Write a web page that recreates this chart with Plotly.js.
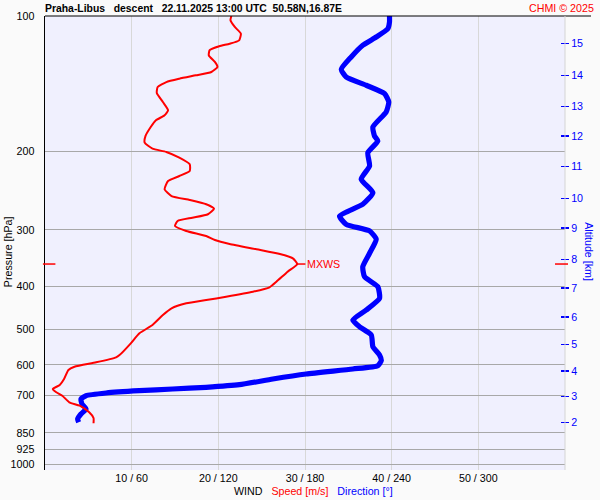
<!DOCTYPE html>
<html><head><meta charset="utf-8">
<script src="https://cdn.plot.ly/plotly-3.0.1.min.js"></script>
<style>html,body{margin:0;padding:0;background:#fafafa}</style>
</head><body><div id="chart" style="width:600px;height:500px"></div>
<script>
// Wind speed profile (m/s) vs pressure (hPa)
const speedPressure = [100,102.2,105.8,109.5,113.3,115.3,116.8,119.2,122.4,126.6,129.9,133.3,135.6,138.0,140.4,144.0,148.5,155.5,162.3,166.5,170.8,176.8,185.1,191.6,197.6,201.0,207.0,214.1,221.6,227.4,233.3,243.5,252.0,257.2,262.9,268.9,276.7,281.6,286.4,293.9,301.5,309.4,315.8,322.3,331.3,339.4,347.0,357.3,371.7,391.3,402.7,412.0,422.7,429.9,437.2,448.6,464.2,488.6,509.9,536.8,570.1,576.8,591.8,605.3,615.6,644.7,664.9,678.7,690.3,702.5,726.7,739.5,765.0,787.7,809.4];
const speed = [21.5,21.4,21.9,22.6,22.4,21.3,20.1,19.0,18.9,19.6,19.9,19.2,17.4,15.5,14.0,13.0,12.9,13.6,14.2,13.8,12.8,12.2,11.6,11.5,12.4,14.0,15.5,16.7,16.7,15.5,14.2,13.8,14.6,16.7,18.6,19.5,18.8,17.0,15.3,15.0,16.3,18.6,19.6,21.3,24.4,27.1,28.6,29.1,28.0,26.7,25.9,24.0,20.9,18.6,16.3,14.6,13.6,12.4,10.9,9.9,8.6,8.2,5.9,3.4,2.7,2.2,1.7,0.9,1.3,2.0,2.8,4.0,5.1,5.6,5.6];

// Wind direction profile (deg) vs pressure (hPa)
const dirPressure = [100,103.1,106.7,111.4,116.2,123.4,131.5,136.8,142.7,149.0,155.5,163.7,176.8,185.1,190.0,201.8,216.0,231.2,247.7,262.9,279.2,291.4,301.5,314.6,338.1,362.2,381.3,401.4,426.1,452.4,476.3,492.9,514.4,546.3,570.1,586.9,602.2,612.5,628.4,644.7,663.9,672.8,678.7,684.6,692.8,702.5,714.5,733.1,752.2,771.7,791.8,805.4];
const direction = [238.5,238.5,237.4,229.3,220.0,212.0,205.1,208.5,222.4,235.1,238.0,236.2,227.0,228.1,230.4,223.5,224.7,218.9,227.0,220.0,203.9,208.5,224.7,229.3,224.7,220.0,221.2,230.4,231.6,222.4,213.1,217.7,225.9,227.0,231.6,232.8,230.4,213.1,180.8,157.7,134.6,111.5,88.4,65.3,42.3,28.4,24.9,25.6,28.4,24.9,22.6,23.3];

// Axis ticks
const pressureTicks = [100,200,300,400,500,600,700,850,925,1000];
const dirTicks = [60,120,180,240,300];
const windTickText = ['10 / 60','20 / 120','30 / 180','40 / 240','50 / 300'];
const altKm = [15,14,13,12,11,10,9,8,7,6,5,4,3,2];
const altPressure = [115.1,135.6,159.3,185.4,216.8,255.0,297.0,348.7,404.2,469.0,539.5,618.8,706.2,805.3];

const FONT = '"Liberation Sans", Arial, sans-serif';
const FS = 10.7;
const yRange = [Math.log10(1028.7), 2];

let maxI = 0;
speed.forEach((v,i)=>{ if(v>speed[maxI]) maxI=i; });
const maxS = speed[maxI], maxP = speedPressure[maxI];

const traces = [
  {x: direction, y: dirPressure, xaxis:'x', yaxis:'y', mode:'lines',
   line:{color:'#0000ff', width:5.2, shape:'spline', smoothing:0.5}, hoverinfo:'skip'},
  {x: speed, y: speedPressure, xaxis:'x2', yaxis:'y2', mode:'lines',
   line:{color:'#ff0000', width:2, shape:'spline', smoothing:0.5}, hoverinfo:'skip'}
];

const NB = '\u00A0';
const layout = {
  width:600, height:500,
  margin:{l:45, r:35, t:16, b:30, pad:0},
  paper_bgcolor:'#fafafa', plot_bgcolor:'#f0f0fe',
  showlegend:false,
  font:{family:FONT, size:FS, color:'#000'},
  xaxis:{range:[0,360], tickvals:dirTicks, ticktext:windTickText, showgrid:true,
         gridcolor:'#d8d8d8', gridwidth:1, zeroline:false, showline:false, ticks:'',
         tickfont:{family:FONT, size:FS, color:'#000'}, fixedrange:true},
  xaxis2:{range:[0,60], overlaying:'x', anchor:'y2', visible:false, fixedrange:true},
  yaxis:{type:'log', range:yRange, tickvals:pressureTicks, ticktext:pressureTicks.map(String),
         gridcolor:'#a8a8a8', gridwidth:1, showline:true, linecolor:'#000', linewidth:1.5,
         ticks:'outside', ticklen:7, tickcolor:'rgba(0,0,0,0)', zeroline:false,
         tickfont:{family:FONT, size:FS, color:'#000'}, fixedrange:true},
  yaxis2:{type:'log', range:yRange, overlaying:'y', anchor:'free', position:0.9904, side:'right',
          tickvals:altPressure, ticktext:altKm.map(String), ticks:'outside', ticklen:8,
          tickcolor:'#0000ff', tickwidth:1.5, showgrid:false, showline:false, zeroline:false,
          tickfont:{family:FONT, size:FS, color:'#0000ff'}, fixedrange:true},
  shapes:[
    {type:'line', xref:'paper', yref:'paper', x0:0, x1:1.05, y0:1, y1:1, line:{color:'#000', width:1}},
    {type:'line', xref:'paper', yref:'paper', x0:1, x1:1, y0:0, y1:1, line:{color:'#d4d4d4', width:1}},
    {type:'line', xref:'x2', yref:'y2', x0:maxS, x1:maxS+0.95, y0:maxP, y1:maxP, line:{color:'#ff0000', width:1.5}},
    {type:'line', xref:'paper', yref:'y2', x0:-0.004, x1:0.02, y0:maxP, y1:maxP, line:{color:'#ff0000', width:1.5}},
    {type:'line', xref:'paper', yref:'y2', x0:0.9808, x1:1.0058, y0:maxP, y1:maxP, line:{color:'#ff0000', width:1.5}}
  ],
  annotations:[
    {xref:'paper', yref:'paper', x:-0.004, y:1, xanchor:'left', yanchor:'bottom', showarrow:false,
     text:'<b>Praha-Libus'+NB+NB+NB+'descent'+NB+NB+NB+'22.11.2025 13:00 UTC'+NB+NB+'50.58N,16.87E</b>',
     font:{family:FONT, size:10.4, color:'#000'}},
    {xref:'paper', yref:'paper', x:1.0596, y:1, xanchor:'right', yanchor:'bottom', showarrow:false,
     text:'CHMI © 2025', font:{family:FONT, size:FS, color:'#ff0000'}},
    {xref:'paper', yref:'paper', x:-0.071, y:0.48, xanchor:'center', yanchor:'middle', showarrow:false,
     textangle:-90, text:'Pressure [hPa]', font:{family:FONT, size:FS, color:'#000'}},
    {xref:'paper', yref:'paper', x:1.046, y:0.48, xanchor:'center', yanchor:'middle', showarrow:false,
     textangle:90, text:'Altitude [km]', font:{family:FONT, size:FS, color:'#0000ff'}},
    {xref:'paper', yref:'paper', x:0.516, y:-0.046, xanchor:'center', yanchor:'middle', showarrow:false,
     text:'WIND'+NB+NB+NB+'<span style="color:#ff0000">Speed [m/s]</span>'+NB+NB+NB+'<span style="color:#0000ff">Direction [°]</span>',
     font:{family:FONT, size:FS, color:'#000'}},
    {xref:'x2', yref:'y2', x:maxS, y:Math.log10(maxP), xanchor:'left', yanchor:'middle', xshift:8, showarrow:false,
     text:'MXWS', font:{family:FONT, size:FS, color:'#ff0000'}}
  ]
};

Plotly.newPlot('chart', traces, layout, {displayModeBar:false, staticPlot:true});
</script></body></html>
